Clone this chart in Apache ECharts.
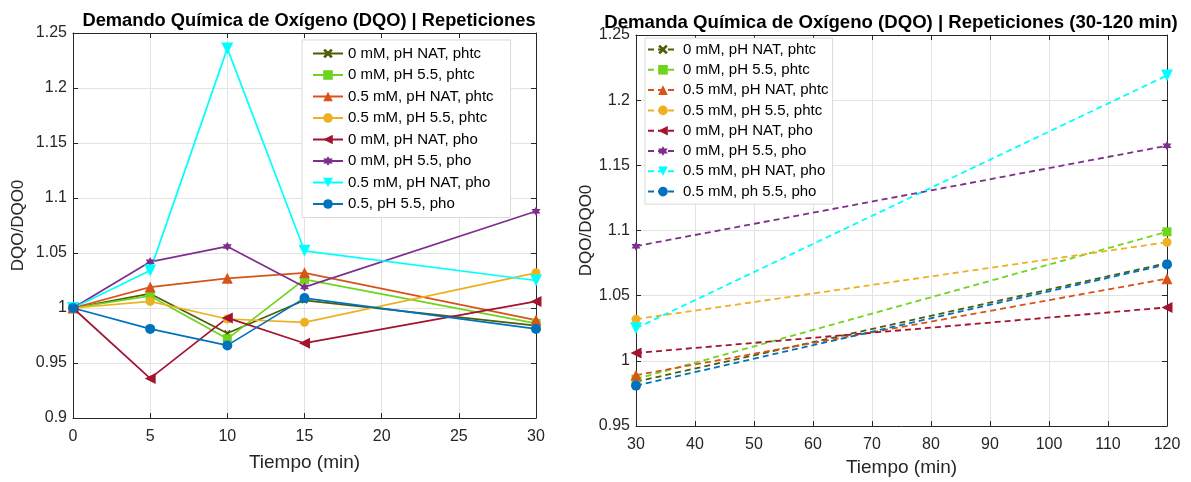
<!DOCTYPE html>
<html>
<head>
<meta charset="utf-8">
<script src="https://cdn.jsdelivr.net/npm/echarts@6/dist/echarts.min.js"></script>
<style>
  html, body { margin: 0; padding: 0; background: #fff; }
  #chart { width: 1191px; height: 482px; }
</style>
</head>
<body>
<div id="chart"></div>
<script>
// Sampling times (min)
const timesAll = [0, 5, 10, 15, 30];
const timesLong = [30, 120];

// Series labels
const seriesNames = [
  '0 mM, pH NAT, phtc',
  '0 mM, pH 5.5, phtc',
  '0.5 mM, pH NAT, phtc',
  '0.5 mM, pH 5.5, phtc',
  '0 mM, pH NAT, pho',
  '0 mM, pH 5.5, pho',
  '0.5 mM, pH NAT, pho',
  '0.5, pH 5.5, pho'
];
const seriesNamesLong = [
  '0 mM, pH NAT, phtc',
  '0 mM, pH 5.5, phtc',
  '0.5 mM, pH NAT, phtc',
  '0.5 mM, pH 5.5, phtc',
  '0 mM, pH NAT, pho',
  '0 mM, pH 5.5, pho',
  '0.5 mM, pH NAT, pho',
  '0.5 mM, ph 5.5, pho'
];

// DQO/DQO0 over 0-30 min
const phtcNat0 = [1.000, 1.013, 0.977, 1.007, 0.984];
const phtc55_0 = [1.000, 1.011, 0.972, 1.026, 0.986];
const phtcNat05 = [1.000, 1.019, 1.027, 1.032, 0.989];
const phtc55_05 = [1.000, 1.006, 0.990, 0.987, 1.032];
const phoNat0 = [1.000, 0.936, 0.991, 0.968, 1.006];
const pho55_0 = [1.000, 1.042, 1.056, 1.019, 1.088];
const phoNat05 = [1.000, 1.034, 1.236, 1.052, 1.025];
const pho55_05 = [1.000, 0.981, 0.966, 1.009, 0.981];

// DQO/DQO0 at 30 and 120 min
const longPhtcNat0 = [0.984, 1.075];
const longPhtc55_0 = [0.986, 1.099];
const longPhtcNat05 = [0.989, 1.063];
const longPhtc55_05 = [1.032, 1.091];
const longPhoNat0 = [1.006, 1.041];
const longPho55_0 = [1.088, 1.165];
const longPhoNat05 = [1.025, 1.219];
const longPho55_05 = [0.981, 1.074];

// Axis ticks
const leftYTicks = { min: 0.9, max: 1.25, step: 0.05 };
const rightYTicks = { min: 0.95, max: 1.25, step: 0.05 };
const leftXTicks = { min: 0, max: 30, step: 5 };
const rightXTicks = { min: 30, max: 120, step: 10 };

const shortData = [phtcNat0, phtc55_0, phtcNat05, phtc55_05, phoNat0, pho55_0, phoNat05, pho55_05];
const longData = [longPhtcNat0, longPhtc55_0, longPhtcNat05, longPhtc55_05, longPhoNat0, longPho55_0, longPhoNat05, longPho55_05];

const colors = ['#4c5f08', '#6fd41c', '#d95319', '#edb120', '#a2142f', '#7e2f8e', '#00ffff', '#0072bd'];
const SYM_X = 'path://M2,0L5,3L8,0L10,2L7,5L10,8L8,10L5,7L2,10L0,8L3,5L0,2Z';
const SYM_LEFT = 'path://M0,5L10,0L10,10Z';
const SYM_DOWN = 'path://M0,0L10,0L5,10Z';
const SYM_HEX = 'path://M5,0L9.33,7.5L0.67,7.5Z M5,10L0.67,2.5L9.33,2.5Z';
const symbols = [SYM_X, 'rect', 'triangle', 'circle', SYM_LEFT, SYM_HEX, SYM_DOWN, 'circle'];
const symSizes = [7, 9, 11, 9, 11, 9, 12, 10];

const TXT = '#262626';
const fontFam = '"Liberation Sans", Arial, Helvetica, sans-serif';
const fmt = v => String(+v.toFixed(2));

function pairs(xs, ys) { return xs.map((x, i) => [x, ys[i]]); }

const series = [];
shortData.forEach((d, i) => {
  series.push({
    name: seriesNames[i],
    type: 'line',
    xAxisIndex: 0, yAxisIndex: 0,
    data: pairs(timesAll, d),
    symbol: symbols[i], symbolSize: symSizes[i],
    showAllSymbol: true,
    lineStyle: { color: colors[i], width: 1.7 },
    itemStyle: { color: colors[i] },
    animation: false, z: 3
  });
});
longData.forEach((d, i) => {
  series.push({
    name: 'R|' + seriesNamesLong[i],
    type: 'line',
    xAxisIndex: 1, yAxisIndex: 1,
    data: pairs(timesLong, d),
    symbol: symbols[i], symbolSize: symSizes[i],
    lineStyle: { color: colors[i], width: 1.8, type: [6, 4] },
    itemStyle: { color: colors[i] },
    animation: false, z: 3
  });
});

function mainX(grid, t, nameGap) {
  return {
    type: 'value', gridIndex: grid, min: t.min, max: t.max, interval: t.step,
    name: 'Tiempo (min)', nameLocation: 'middle', nameGap: nameGap,
    nameTextStyle: { fontSize: 19, color: TXT, fontFamily: fontFam },
    axisLine: { show: true, onZero: false, lineStyle: { color: TXT, width: 1 } },
    axisTick: { show: true, inside: true, length: 5, lineStyle: { color: TXT } },
    axisLabel: { fontSize: 16, color: TXT, fontFamily: fontFam, margin: 11, formatter: fmt },
    splitLine: { show: true, lineStyle: { color: '#e3e3e3', width: 1 } }
  };
}
function mainY(grid, t, nameGap) {
  return {
    type: 'value', gridIndex: grid, min: t.min, max: t.max, interval: t.step,
    name: 'DQO/DQO0', nameLocation: 'middle', nameGap: nameGap,
    nameTextStyle: { fontSize: 17, color: TXT, fontFamily: fontFam },
    axisLine: { show: true, onZero: false, lineStyle: { color: TXT, width: 1 } },
    axisTick: { show: true, inside: true, length: 5, lineStyle: { color: TXT } },
    axisLabel: { fontSize: 16, color: TXT, fontFamily: fontFam, margin: 6, formatter: fmt },
    splitLine: { show: true, lineStyle: { color: '#e3e3e3', width: 1 } }
  };
}
function boxX(grid, t) {
  return {
    type: 'value', gridIndex: grid, position: 'top', min: t.min, max: t.max, interval: t.step,
    axisLine: { show: true, onZero: false, lineStyle: { color: TXT, width: 1 } },
    axisTick: { show: true, inside: true, length: 5, lineStyle: { color: TXT } },
    axisLabel: { show: false }, splitLine: { show: false }
  };
}
function boxY(grid, t) {
  return {
    type: 'value', gridIndex: grid, position: 'right', min: t.min, max: t.max, interval: t.step,
    axisLine: { show: true, onZero: false, lineStyle: { color: TXT, width: 1 } },
    axisTick: { show: true, inside: true, length: 5, lineStyle: { color: TXT } },
    axisLabel: { show: false }, splitLine: { show: false }
  };
}

const legendBase = {
  orient: 'vertical',
  backgroundColor: '#ffffff',
  borderColor: '#d9d9d9', borderWidth: 1, borderRadius: 0,
  itemHeight: 12,
  textStyle: { fontSize: 15, color: '#000', fontFamily: fontFam },
  itemStyle: { borderWidth: 0 },
  selectedMode: false
};

const option = {
  backgroundColor: '#ffffff',
  animation: false,
  textStyle: { fontFamily: fontFam },
  title: [
    { text: 'Demando Química de Oxígeno (DQO) | Repeticiones', left: 304, top: 7, textAlign: 'center',
      textStyle: { fontSize: 18.3, fontWeight: 'bold', color: '#000', fontFamily: fontFam } },
    { text: 'Demanda Química de Oxígeno (DQO) | Repeticiones (30-120 min)', left: 886, top: 8, textAlign: 'center',
      textStyle: { fontSize: 18.6, fontWeight: 'bold', color: '#000', fontFamily: fontFam } }
  ],
  grid: [
    { left: 73, top: 33, width: 463, height: 385 },
    { left: 636, top: 35, width: 531, height: 391 }
  ],
  xAxis: [mainX(0, leftXTicks, 35), mainX(1, rightXTicks, 32), boxX(0, leftXTicks), boxX(1, rightXTicks)],
  yAxis: [mainY(0, leftYTicks, 46), mainY(1, rightYTicks, 37), boxY(0, leftYTicks), boxY(1, rightYTicks)],
  legend: [
    Object.assign({}, legendBase, {
      left: 302, top: 40, itemWidth: 30, itemGap: 6.5, padding: [6, 17, 6, 10],
      data: seriesNames
    }),
    Object.assign({}, legendBase, {
      left: 645, top: 38, itemWidth: 30, itemGap: 5.3, padding: [4, 4, 5, 2],
      data: seriesNamesLong.map(n => 'R|' + n),
      formatter: n => n.replace(/^R\|/, '')
    })
  ],
  series: series
};

const chart = echarts.init(document.getElementById('chart'), null, { renderer: 'canvas' });
chart.setOption(option);
</script>
</body>
</html>
